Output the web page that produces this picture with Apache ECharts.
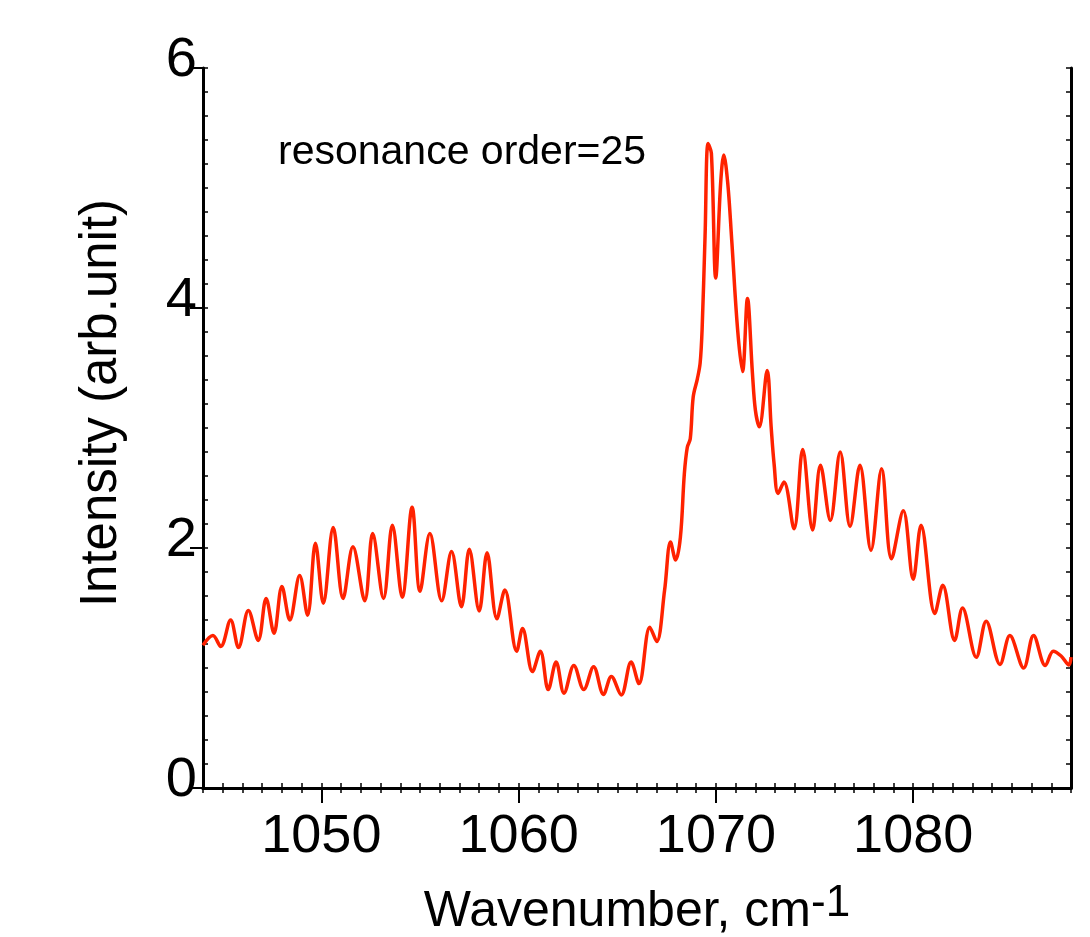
<!DOCTYPE html>
<html>
<head>
<meta charset="utf-8">
<title>resonance order=25</title>
<script src="https://cdn.jsdelivr.net/npm/echarts@6/dist/echarts.min.js"></script>
<style>
  html, body { margin: 0; padding: 0; background: #fff; }
  #chart { width: 1090px; height: 937px; }
</style>
</head>
<body>
<div id="chart"></div>
<script>
// values (cm-1, arb. unit)
var wavenumber = [
  1044.0, 1044.5, 1044.9, 1045.4, 1045.8, 1046.3, 1046.8, 1047.2, 1047.6, 1048.0,
  1048.4, 1048.9, 1049.3, 1049.7, 1050.1, 1050.6, 1051.1, 1051.6, 1052.2, 1052.6,
  1053.15, 1053.6, 1054.1, 1054.6, 1055.0, 1055.5, 1056.1, 1056.6, 1057.1, 1057.5,
  1058.0, 1058.4, 1058.9, 1059.3, 1059.9, 1060.2, 1060.7, 1061.1, 1061.5, 1061.9,
  1062.3, 1062.8, 1063.3, 1063.8, 1064.3, 1064.7, 1065.2, 1065.7, 1066.1, 1066.65,
  1067.0, 1067.4, 1067.7, 1067.96, 1068.2, 1068.4, 1068.55, 1068.7, 1068.85, 1069.06,
  1069.2, 1069.3, 1069.45, 1069.6, 1069.77, 1069.99, 1070.24, 1070.4, 1070.6, 1070.8,
  1071.1, 1071.35, 1071.6, 1071.85, 1072.0, 1072.2, 1072.6, 1072.8, 1072.95, 1073.15,
  1073.45, 1073.96, 1074.4, 1074.9, 1075.3, 1075.8, 1076.3, 1076.8, 1077.3, 1077.86,
  1078.4, 1078.9, 1079.5, 1080.0, 1080.4, 1081.1, 1081.5, 1082.1, 1082.5, 1083.2,
  1083.7, 1084.4, 1084.9, 1085.6, 1086.1, 1086.7, 1087.1, 1087.5, 1087.9, 1088.0
];
var intensity = [
  1.19, 1.27, 1.18, 1.40, 1.17, 1.48, 1.23, 1.58, 1.29, 1.68,
  1.40, 1.77, 1.44, 2.04, 1.54, 2.17, 1.58, 2.01, 1.56, 2.12,
  1.58, 2.19, 1.59, 2.34, 1.64, 2.12, 1.56, 1.97, 1.51, 1.99,
  1.475, 1.96, 1.41, 1.65, 1.14, 1.33, 0.97, 1.14, 0.82, 1.05,
  0.79, 1.02, 0.82, 1.01, 0.78, 0.93, 0.775, 1.05, 0.87, 1.34,
  1.22, 1.65, 2.05, 1.90, 2.09, 2.62, 2.84, 2.91, 3.26, 3.41,
  3.54, 3.82, 4.60, 5.37, 5.29, 4.25, 5.04, 5.275, 5.04, 4.57,
  3.82, 3.47, 4.08, 3.46, 3.15, 3.01, 3.48, 3.01, 2.70, 2.455,
  2.55, 2.16, 2.82, 2.15, 2.69, 2.23, 2.80, 2.18, 2.69, 1.98,
  2.66, 1.91, 2.31, 1.74, 2.19, 1.455, 1.69, 1.23, 1.50, 1.09,
  1.39, 1.03, 1.27, 1.00, 1.27, 1.02, 1.14, 1.10, 1.025, 1.09
];
var xTicks = [1050, 1060, 1070, 1080];
var xRange = [1044, 1088];
var yRange = [0, 6];

var font = "'Liberation Sans', Arial, sans-serif";
var chart = echarts.init(document.getElementById('chart'));

var minorX = function (pos) {
  return {
    type: 'value', position: pos, min: xRange[0], max: xRange[1], interval: 1,
    axisLine: { show: pos === 'top', lineStyle: { color: '#000', width: 3 } },
    axisTick: { show: true, inside: true, length: 5, lineStyle: { color: '#000', width: 1.5 } },
    axisLabel: { show: false },
    splitLine: { show: false }
  };
};
var minorY = function (pos) {
  return {
    type: 'value', position: pos, min: yRange[0], max: yRange[1], interval: 0.2,
    axisLine: { show: pos === 'right', lineStyle: { color: '#000', width: 3 } },
    axisTick: { show: true, inside: true, length: 5, lineStyle: { color: '#000', width: 1.5 } },
    axisLabel: { show: false },
    splitLine: { show: false }
  };
};

chart.setOption({
  animation: false,
  grid: { left: 203, right: 19, top: 68, bottom: 149, containLabel: false, outerBoundsMode: 'none' },
  xAxis: [
    {
      type: 'value',
      position: 'bottom',
      min: xRange[0],
      max: xRange[1],
      name: '{a|Wavenumber, cm}{s|-1}',
      nameLocation: 'middle',
      nameGap: 94,
      nameTextStyle: {
        rich: {
          a: { fontFamily: font, fontSize: 50, color: '#000', lineHeight: 60 },
          s: { fontFamily: font, fontSize: 44, color: '#000', lineHeight: 44, verticalAlign: 'top' }
        }
      },
      axisLine: { lineStyle: { color: '#000', width: 3 } },
      axisTick: { customValues: xTicks, length: 15, lineStyle: { color: '#000', width: 2 } },
      axisLabel: {
        customValues: xTicks, margin: 22, fontFamily: font, fontSize: 54, color: '#000',
        formatter: function (v) { return String(v); }
      },
      splitLine: { show: false }
    },
    minorX('bottom'),
    minorX('top')
  ],
  yAxis: [
    {
      type: 'value',
      position: 'left',
      min: yRange[0],
      max: yRange[1],
      interval: 2,
      name: 'Intensity (arb.unit)',
      nameLocation: 'middle',
      nameGap: 76,
      nameTextStyle: { fontFamily: font, fontSize: 51, color: '#000', padding: [0, 0, 0, 50] },
      axisLine: { lineStyle: { color: '#000', width: 3 } },
      axisTick: { length: 13, lineStyle: { color: '#000', width: 2 } },
      axisLabel: {
        margin: 6, fontFamily: font, fontSize: 56, color: '#000',
        verticalAlign: 'bottom', lineHeight: 14
      },
      splitLine: { show: false }
    },
    minorY('left'),
    minorY('right')
  ],
  graphic: [
    {
      type: 'text',
      left: 278,
      top: 132,
      style: { text: 'resonance order=25', fontFamily: font, fontSize: 41, fill: '#000' }
    }
  ],
  series: [
    {
      type: 'line',
      xAxisIndex: 0,
      yAxisIndex: 0,
      data: wavenumber.map(function (w, i) { return [w, intensity[i]]; }),
      smooth: 0.35,
      showSymbol: false,
      lineStyle: { color: '#ff2200', width: 3.5 }
    }
  ]
});
</script>
</body>
</html>
